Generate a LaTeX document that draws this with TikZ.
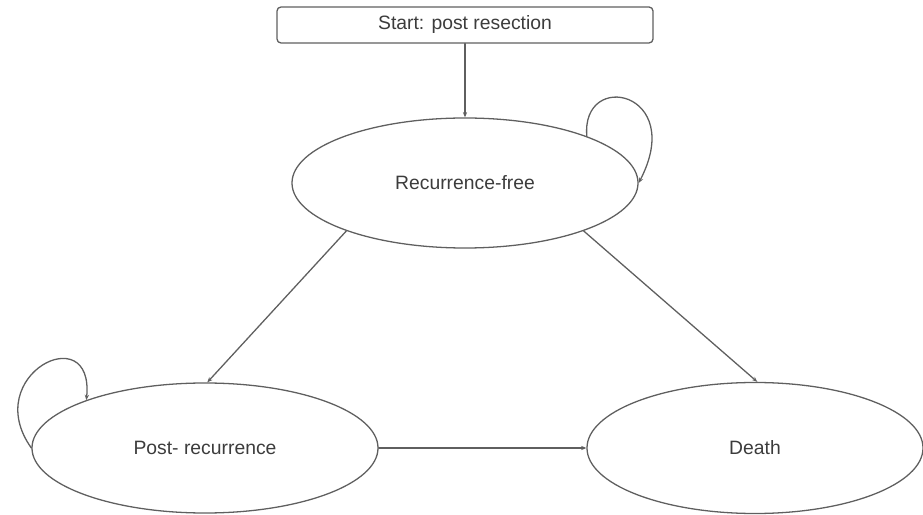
\documentclass[tikz,border=0pt]{standalone}
\usepackage{fontspec}
\setmainfont{Liberation Sans}
\usetikzlibrary{arrows.meta,shapes.geometric}
\definecolor{edgegray}{RGB}{95,95,95}
\definecolor{textgray}{RGB}{60,60,60}
\tikzset{
 stateoval/.style={ellipse,draw=edgegray,line width=1.1pt,text=textgray,
  minimum width=10.38cm,minimum height=3.9cm,inner sep=0pt},
 startbox/.style={rectangle,draw=edgegray,line width=1.1pt,rounded corners=0.12cm,
  text=textgray,minimum width=11.28cm,minimum height=1.08cm,inner sep=0pt},
 link/.style={->,draw=edgegray,line width=1.1pt}
}
\begin{document}
\begin{tikzpicture}[x=0.03cm,y=-0.03cm,>={Stealth[length=0.16cm,width=0.13cm]},
 line cap=round,line join=round,font=\fontsize{16.5}{19}\selectfont]
 \useasboundingbox (0,0) rectangle (923,515);
 \node[startbox] (start) at (465,25) {Start: post resection};
 \node[stateoval] (rf) at (465,183) {Recurrence-free};
 \node[stateoval] (pr) at (205,448) {Post- recurrence};
 \node[stateoval,minimum width=10.08cm,minimum height=3.93cm] (death) at (755,448) {Death};
 \draw[link] (start) -- (rf);
 \draw[link] (rf.202) -- (pr.88);
 \draw[link] (rf.-22) -- (death.88);
 \draw[link] (pr.east) -- (death.west);
 % self loops
 \draw[link] (rf.21) .. controls +(-6,-67) and +(48,-92) .. (rf.east);
 \draw[link] (pr.west) .. controls +(-52,-73) and +(8,-83) .. (pr.158);
\end{tikzpicture}
\end{document}
